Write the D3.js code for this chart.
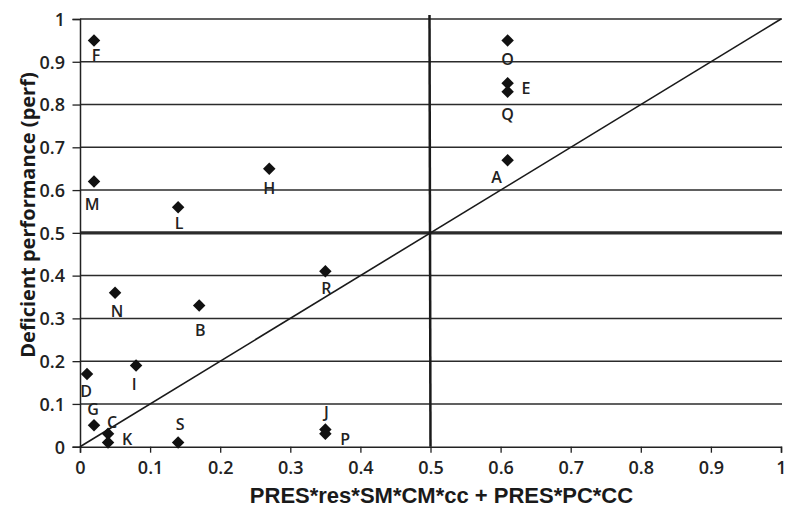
<!DOCTYPE html>
<html>
<head>
<meta charset="utf-8">
<script src="https://cdn.jsdelivr.net/npm/d3@7"></script>
<style>
  body { margin: 0; background: #fff; }
  svg { display: block; }
  .tick-label { font-family: "Open Sans", sans-serif; font-weight: 600; font-size: 18px; fill: #222; }
  .pt-label { font-family: "Open Sans", sans-serif; font-weight: 600; font-size: 16px; fill: #222; }
</style>
</head>
<body>
<svg id="chart" width="789" height="508"></svg>
<script>
// case labels and their coordinates
const names = ["F", "M", "L", "H", "O", "E", "Q", "A", "R", "N", "B", "I", "D", "G", "C", "K", "S", "J", "P"];
const xVals = [0.02, 0.02, 0.14, 0.27, 0.61, 0.61, 0.61, 0.61, 0.35, 0.05, 0.17, 0.08, 0.01, 0.02, 0.04, 0.04, 0.14, 0.35, 0.35];
const yVals = [0.95, 0.62, 0.56, 0.65, 0.95, 0.85, 0.83, 0.67, 0.41, 0.36, 0.33, 0.19, 0.17, 0.05, 0.03, 0.01, 0.01, 0.04, 0.03];
const tickVals = [0, 0.1, 0.2, 0.3, 0.4, 0.5, 0.6, 0.7, 0.8, 0.9, 1];
const xTitle = "PRES*res*SM*CM*cc + PRES*PC*CC";
const yTitle = "Deficient performance (perf)";

// where each label sits relative to its marker [dx, dy to baseline]
const labelOffset = {
  F: [2, 21], M: [-2, 28], L: [1, 22], H: [0, 25], O: [0, 25], E: [14, 11, "start"],
  Q: [0, 28], A: [-11, 23], R: [1, 23], N: [2, 24], B: [1, 30], I: [-2, 25],
  D: [-1, 23], G: [-1, -10], C: [4, -6], K: [14, 3, "start"], S: [2, -12],
  J: [1, -12], P: [15, 11, "start"]
};

const svg = d3.select("#chart");
const x = d3.scaleLinear().domain([0, 1]).range([80, 781]);
const y = d3.scaleLinear().domain([0, 1]).range([446.7, 19]);

// horizontal grid lines
svg.append("g")
  .selectAll("line")
  .data(tickVals.filter(d => d > 0))
  .join("line")
  .attr("x1", x(0)).attr("x2", x(1) + 1)
  .attr("y1", d => y(d)).attr("y2", d => y(d))
  .attr("stroke", "#2b2b2b")
  .attr("stroke-width", d => d === 0.5 ? 3.2 : 1.5);

// x axis
const xAxis = svg.append("g")
  .attr("transform", `translate(0,${y(0)})`)
  .call(d3.axisBottom(x).tickValues(tickVals).tickSize(6).tickFormat(d3.format("")));
xAxis.select(".domain").attr("stroke", "#222").attr("stroke-width", 1.5);
xAxis.selectAll(".tick line").attr("stroke", "#222").attr("stroke-width", 1.3);
xAxis.selectAll(".tick text").attr("class", "tick-label").attr("dy", null).attr("y", 27);

// y axis
const yAxis = svg.append("g")
  .attr("transform", `translate(${x(0)},0)`)
  .call(d3.axisLeft(y).tickValues(tickVals).tickSize(7.5).tickFormat(d3.format("")));
yAxis.select(".domain").attr("stroke", "#222").attr("stroke-width", 1.5);
yAxis.selectAll(".tick line").attr("stroke", "#222").attr("stroke-width", 1.3);
yAxis.selectAll(".tick text").attr("class", "tick-label").attr("x", -15).attr("dy", "0.35em");

// vertical divider at 0.5
svg.append("line")
  .attr("x1", x(0.5) - 1).attr("x2", x(0.5))
  .attr("y1", y(1) - 4).attr("y2", y(0))
  .attr("stroke", "#1a1a1a")
  .attr("stroke-width", 2.5);

// diagonal
svg.append("line")
  .attr("x1", x(0)).attr("y1", y(0))
  .attr("x2", x(1)).attr("y2", y(1))
  .attr("stroke", "#1a1a1a")
  .attr("stroke-width", 1.6);

// markers
const pts = names.map((n, i) => ({ name: n, x: xVals[i], y: yVals[i] }));
const diamond = d3.symbol().type(d3.symbolSquare).size(78);

svg.append("g")
  .selectAll("path")
  .data(pts)
  .join("path")
  .attr("d", diamond)
  .attr("transform", d => `translate(${x(d.x)},${y(d.y)}) rotate(45)`)
  .attr("fill", "#111");

svg.append("g")
  .selectAll("text")
  .data(pts)
  .join("text")
  .attr("class", "pt-label")
  .attr("x", d => x(d.x) + labelOffset[d.name][0])
  .attr("y", d => y(d.y) + labelOffset[d.name][1])
  .attr("text-anchor", d => labelOffset[d.name][2] || "middle")
  .text(d => d.name);

// axis titles
svg.append("text")
  .attr("x", 441.5).attr("y", 503)
  .attr("text-anchor", "middle")
  .style("font-family", "'Liberation Sans', Arial, sans-serif")
  .style("font-weight", "bold")
  .style("font-size", "22px")
  .style("fill", "#1a1a1a")
  .text(xTitle);

svg.append("text")
  .attr("transform", "translate(35,215) rotate(-90)")
  .attr("text-anchor", "middle")
  .style("font-family", "'Open Sans', sans-serif")
  .style("font-weight", "bold")
  .style("font-size", "20px")
  .style("fill", "#1a1a1a")
  .text(yTitle);
</script>
</body>
</html>
